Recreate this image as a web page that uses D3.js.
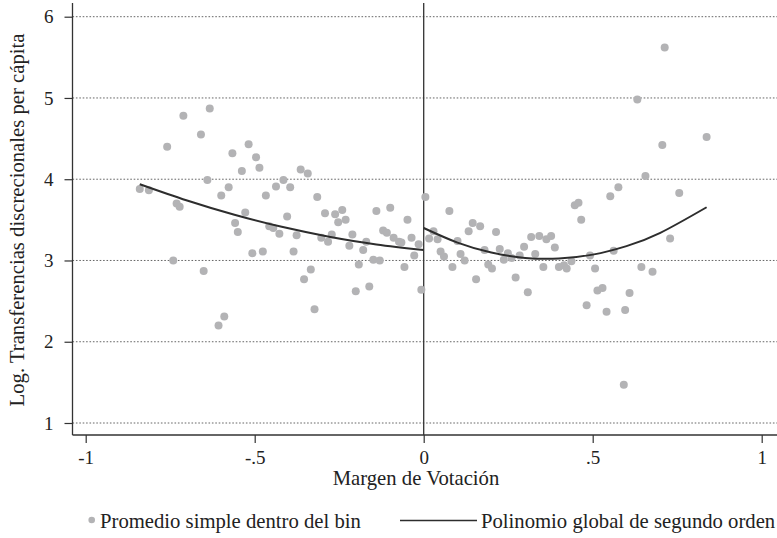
<!DOCTYPE html>
<html>
<head>
<meta charset="utf-8">
<script src="https://cdn.jsdelivr.net/npm/d3@7"></script>
<style>
  html, body { margin: 0; padding: 0; background: #fff; }
  svg text { font-family: "Liberation Serif", "DejaVu Serif", serif; fill: #222; }
</style>
</head>
<body>
<svg id="chart" width="777" height="538"></svg>
<script>
// ---- data ----
const leftX = [-0.840,-0.813,-0.759,-0.711,-0.633,-0.659,-0.518,-0.566,-0.496,-0.486,-0.538,-0.640,-0.577,-0.599,-0.437,-0.467,-0.731,-0.722,-0.528,-0.558,-0.550,-0.457,-0.445,-0.427,-0.507,-0.476,-0.741,-0.651,-0.590,-0.607,-0.364,-0.343,-0.415,-0.395,-0.315,-0.404,-0.292,-0.262,-0.241,-0.253,-0.231,-0.140,-0.099,-0.048,-0.376,-0.303,-0.272,-0.283,-0.211,-0.220,-0.170,-0.179,-0.120,-0.109,-0.089,-0.073,-0.066,-0.036,-0.015,-0.028,-0.385,-0.192,-0.149,-0.130,-0.057,-0.334,-0.354,-0.201,-0.161,-0.323,-0.007];
const leftY = [3.88,3.865,4.40,4.78,4.87,4.55,4.43,4.32,4.27,4.14,4.10,3.99,3.90,3.80,3.91,3.80,3.70,3.66,3.59,3.46,3.35,3.42,3.40,3.33,3.09,3.11,3.00,2.87,2.31,2.20,4.12,4.07,3.99,3.90,3.78,3.54,3.58,3.57,3.62,3.47,3.50,3.61,3.65,3.50,3.31,3.28,3.32,3.23,3.32,3.18,3.23,3.13,3.37,3.34,3.28,3.23,3.22,3.28,3.20,3.06,3.11,2.95,3.01,3.00,2.92,2.89,2.77,2.62,2.68,2.40,2.64];
const rightX = [0.005,0.016,0.076,0.029,0.041,0.145,0.167,0.133,0.214,0.100,0.050,0.060,0.109,0.121,0.085,0.180,0.225,0.191,0.202,0.237,0.249,0.260,0.284,0.297,0.318,0.342,0.363,0.377,0.388,0.330,0.354,0.400,0.415,0.423,0.437,0.155,0.272,0.308,0.447,0.458,0.466,0.713,0.632,0.706,0.837,0.656,0.576,0.552,0.756,0.729,0.562,0.492,0.507,0.644,0.677,0.514,0.529,0.609,0.482,0.541,0.596,0.592];
const rightY = [3.78,3.27,3.61,3.36,3.26,3.46,3.42,3.36,3.35,3.24,3.11,3.05,3.08,3.00,2.92,3.13,3.14,2.95,2.90,3.01,3.09,3.03,3.06,3.17,3.29,3.30,3.26,3.30,3.16,3.08,2.92,2.92,2.94,2.90,2.99,2.77,2.79,2.61,3.68,3.71,3.50,5.62,4.98,4.42,4.52,4.04,3.90,3.79,3.83,3.27,3.12,3.06,2.90,2.92,2.86,2.63,2.66,2.60,2.45,2.37,2.39,1.47];
const fitLeftX = [-0.840,-0.700,-0.560,-0.420,-0.280,-0.140,0.000];
const fitLeftY = [3.939,3.738,3.563,3.414,3.293,3.198,3.130];
const fitRightX = [0.000,0.100,0.200,0.300,0.400,0.500,0.600,0.700,0.837];
const fitRightY = [3.400,3.220,3.098,3.032,3.024,3.072,3.177,3.340,3.655];
const xTicks = [-1,-0.5,0,0.5,1];
const xTickLabels = ["-1","-.5","0",".5","1"];
const yTicks = [1,2,3,4,5,6];
const yTickLabels = ["1","2","3","4","5","6"];
const xTitle = "Margen de Votación";
const yTitle = "Log. Transferencias discrecionales per cápita";
const legendLabels = ["Promedio simple dentro del bin","Polinomio global de segundo orden"];

// ---- layout ----
const svg = d3.select("#chart");
const plotL = 72.5, plotR = 777, plotT = 3, plotB = 435;
const x = d3.scaleLinear().domain([-1, 1]).range([85.7, 761.7]);
const y = d3.scaleLinear().domain([1, 6]).range([423, 16.7]);
const FS = "20.7px";

// grid
svg.append("g").selectAll("line").data(yTicks).join("line")
  .attr("x1", plotL).attr("x2", plotR)
  .attr("y1", d => y(d)).attr("y2", d => y(d))
  .attr("stroke", "#555").attr("stroke-width", 0.9)
  .attr("stroke-dasharray", "1.6,1.8");

// y axis
const yAxis = d3.axisLeft(y).tickValues(yTicks).tickFormat((d, i) => yTickLabels[i]).tickSize(8).tickPadding(11);
const gy = svg.append("g").attr("transform", `translate(${plotL},0)`).call(yAxis);
gy.select(".domain").remove();
gy.selectAll(".tick line").attr("stroke", "#333").attr("stroke-width", 1.2);
gy.selectAll(".tick text").style("font-size", "19px").attr("fill", "#222");
svg.append("line").attr("x1", plotL).attr("x2", plotL).attr("y1", plotT).attr("y2", plotB)
  .attr("stroke", "#333").attr("stroke-width", 1.3);

// x axis
const xAxis = d3.axisBottom(x).tickValues(xTicks).tickFormat((d, i) => xTickLabels[i]).tickSize(8).tickPadding(8);
const gx = svg.append("g").attr("transform", `translate(0,${plotB})`).call(xAxis);
gx.select(".domain").remove();
gx.selectAll(".tick line").attr("stroke", "#333").attr("stroke-width", 1.2);
gx.selectAll(".tick text").style("font-size", "19px").attr("fill", "#222");
svg.append("line").attr("x1", plotL).attr("x2", plotR).attr("y1", plotB).attr("y2", plotB)
  .attr("stroke", "#333").attr("stroke-width", 1.3);

// zero line
svg.append("line").attr("x1", x(0)).attr("x2", x(0)).attr("y1", plotT).attr("y2", plotB)
  .attr("stroke", "#333").attr("stroke-width", 1.3);

// points
const pts = leftX.map((d, i) => [d, leftY[i]]).concat(rightX.map((d, i) => [d, rightY[i]]));
svg.append("g").selectAll("circle").data(pts).join("circle")
  .attr("cx", d => x(d[0])).attr("cy", d => y(d[1])).attr("r", 4)
  .attr("fill", "#b3b3b5");

// fit lines
const line = d3.line().x(d => x(d[0])).y(d => y(d[1])).curve(d3.curveNatural);
svg.append("path").datum(fitLeftX.map((d, i) => [d, fitLeftY[i]]))
  .attr("d", line).attr("fill", "none").attr("stroke", "#2d2d2d").attr("stroke-width", 2);
svg.append("path").datum(fitRightX.map((d, i) => [d, fitRightY[i]]))
  .attr("d", line).attr("fill", "none").attr("stroke", "#2d2d2d").attr("stroke-width", 2);

// titles
svg.append("text").attr("x", 416).attr("y", 485).attr("text-anchor", "middle")
  .style("font-size", FS).text(xTitle);
svg.append("text").attr("transform", "translate(24,220) rotate(-90)").attr("text-anchor", "middle")
  .style("font-size", FS).text(yTitle);

// legend
svg.append("circle").attr("cx", 91.7).attr("cy", 520).attr("r", 3.3).attr("fill", "#b3b3b5");
svg.append("text").attr("x", 100).attr("y", 528).style("font-size", FS).text(legendLabels[0]);
svg.append("line").attr("x1", 400).attr("x2", 477).attr("y1", 520.5).attr("y2", 520.5)
  .attr("stroke", "#2d2d2d").attr("stroke-width", 1.5);
svg.append("text").attr("x", 481).attr("y", 528).style("font-size", FS).text(legendLabels[1]);
</script>
</body>
</html>
